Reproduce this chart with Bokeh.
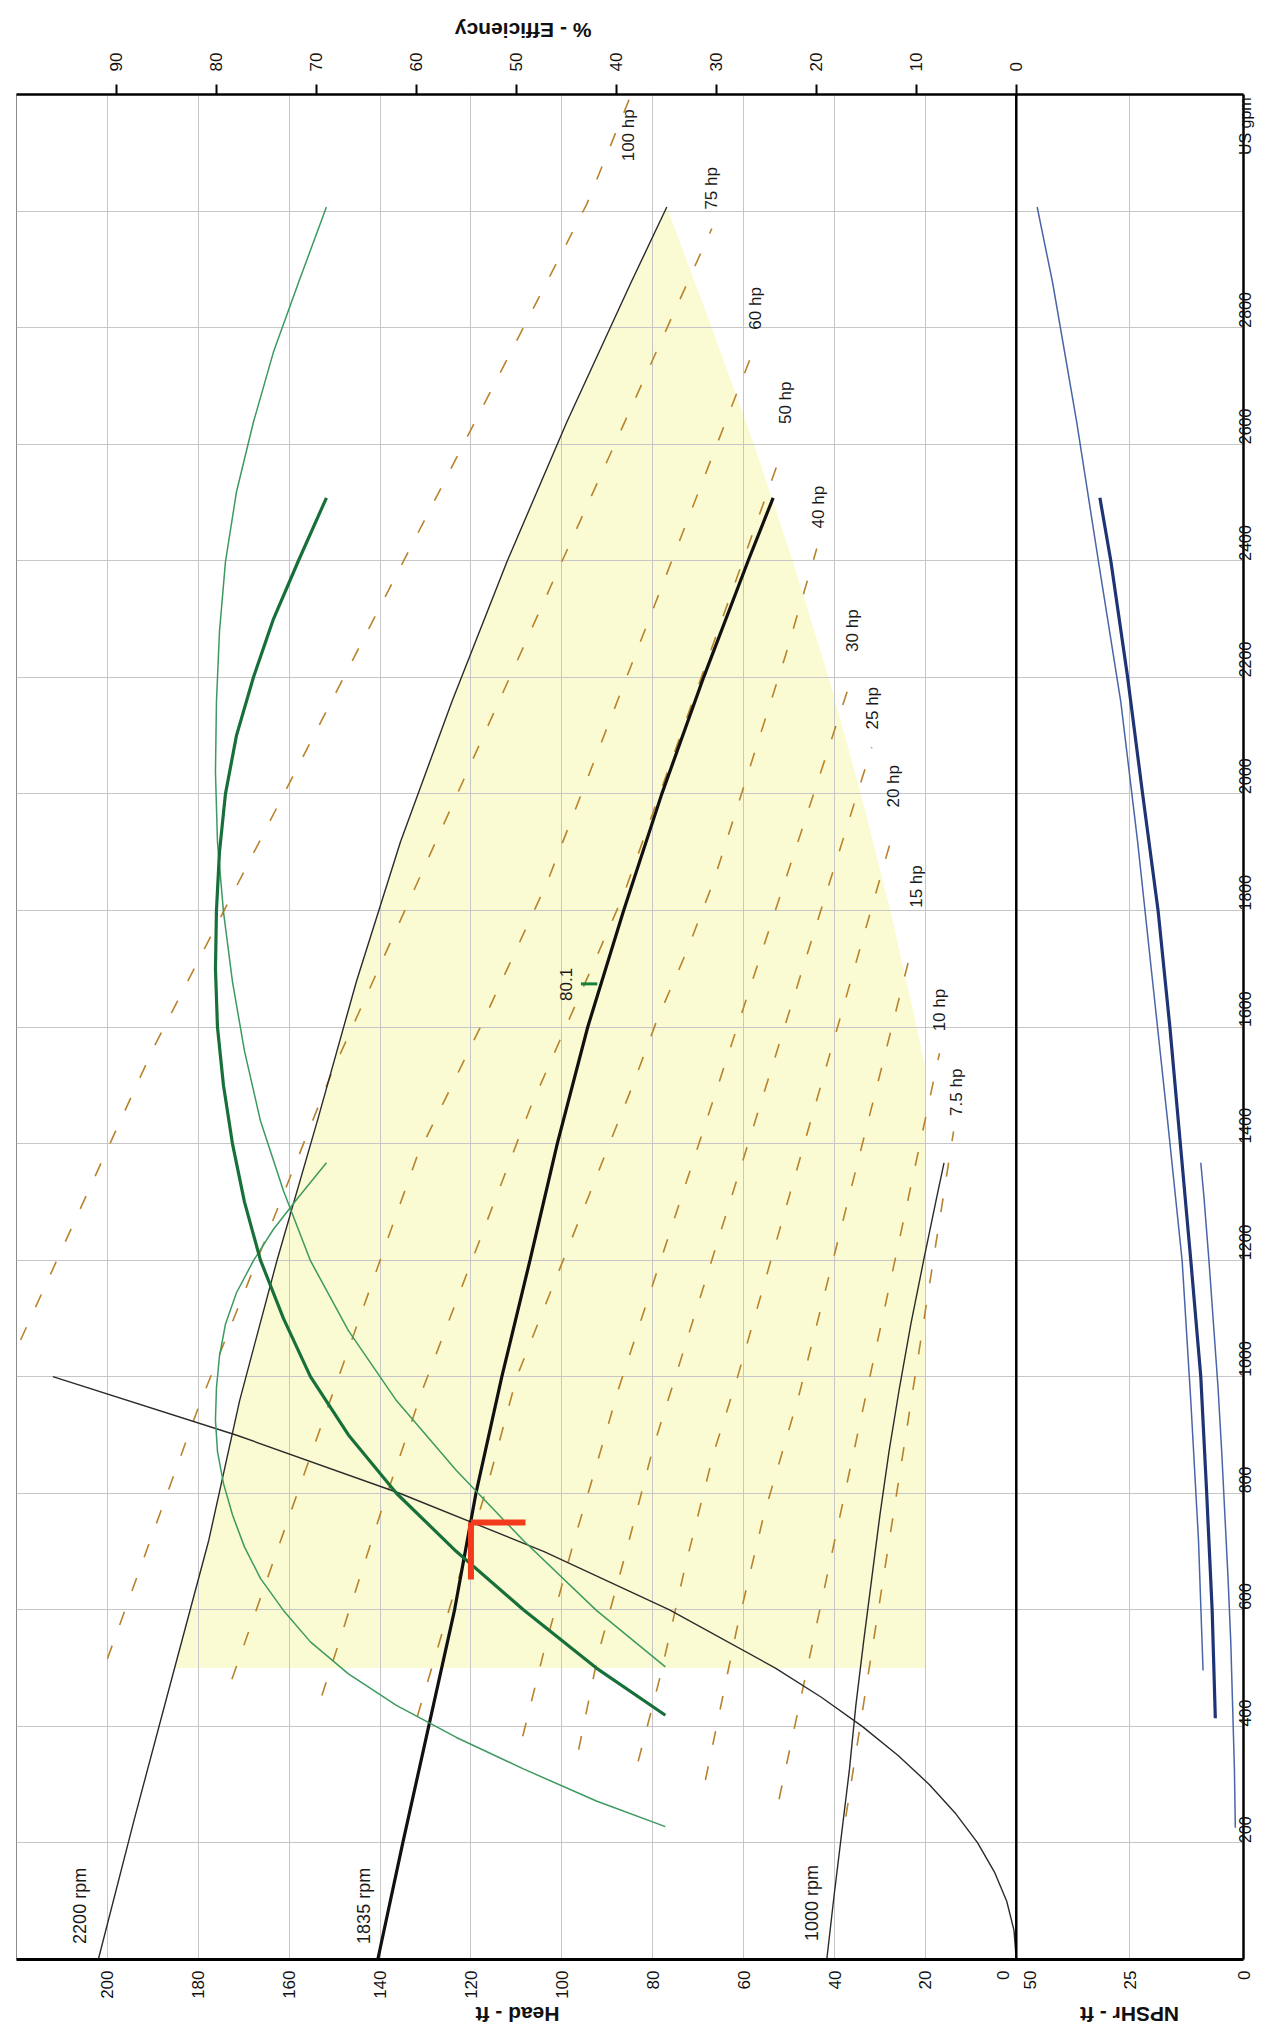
import math
from bokeh.plotting import figure
from bokeh.models import Range1d, LinearAxis, FixedTicker, Arrow, Span
from bokeh.core.properties import value
from bokeh.embed import file_html
from bokeh.resources import INLINE

FONT = "Liberation Sans"

# ---------------- data (x = flow US gpm, y = head ft) ----------------
q_1835 = [0, 200, 400, 600, 800, 1000, 1200, 1400, 1600, 1800, 2000, 2200, 2400, 2508]
h_1835 = [140.5, 135.0, 129.3, 123.6, 118.9, 113.2, 107.0, 101.0, 94.3, 86.4, 78.0, 68.8, 59.0, 53.5]

q_2200 = [0, 240, 480, 719, 959, 1199, 1439, 1678, 1918, 2158, 2398, 2638, 2877, 3007]
h_2200 = [202.0, 194.1, 185.9, 177.7, 170.9, 162.7, 153.8, 145.2, 135.5, 124.2, 112.1, 98.9, 84.8, 76.9]

q_1000 = [0, 109, 218, 327, 436, 545, 654, 763, 872, 981, 1090, 1199, 1308, 1367]
h_1000 = [41.7, 40.1, 38.4, 36.7, 35.3, 33.6, 31.8, 30.0, 28.0, 25.7, 23.2, 20.4, 17.5, 15.9]

q_sys = [0, 50, 100, 150, 200, 250, 300, 350, 400, 450, 500, 600, 700, 800, 900, 1000]
h_sys = [0, 0.5, 2.1, 4.8, 8.5, 13.3, 19.1, 26.0, 33.9, 42.9, 53.0, 76.3, 103.9, 135.7, 171.7, 212.0]

# efficiency (%)
eq_1835 = [419, 500, 600, 700, 800, 900, 1000, 1100, 1200, 1300, 1400, 1500, 1600, 1700, 1800, 1900, 2000, 2100, 2200, 2300, 2400, 2508]
eff_1835 = [35.1, 42.0, 49.3, 56.0, 62.0, 66.8, 70.6, 73.3, 75.6, 77.2, 78.4, 79.3, 79.9, 80.1, 80.0, 79.7, 79.1, 78.0, 76.3, 74.3, 71.8, 69.0]
eq_2200 = [502, 599, 719, 839, 959, 1079, 1199, 1319, 1439, 1559, 1678, 1798, 1918, 2038, 2158, 2278, 2398, 2518, 2638, 2758, 2877, 3007]
eff_2200 = [35.1, 42.0, 49.3, 56.0, 62.0, 66.8, 70.6, 73.3, 75.6, 77.2, 78.4, 79.3, 79.9, 80.1, 80.0, 79.7, 79.1, 78.0, 76.3, 74.3, 71.8, 69.0]
eq_1000 = [228, 272, 327, 381, 436, 490, 545, 599, 654, 708, 763, 817, 872, 926, 981, 1035, 1090, 1144, 1199, 1253, 1308, 1367]
eff_1000 = [35.1, 42.0, 49.3, 56.0, 62.0, 66.8, 70.6, 73.3, 75.6, 77.2, 78.4, 79.3, 79.9, 80.1, 80.0, 79.7, 79.1, 78.0, 76.3, 74.3, 71.8, 69.0]

# NPSHr (ft)
nq_1835 = [414, 600, 800, 1000, 1200, 1400, 1600, 1800, 2000, 2200, 2400, 2508]
npsh_1835 = [6.2, 6.9, 8.1, 9.4, 11.6, 13.9, 16.2, 18.8, 22.2, 25.5, 29.2, 31.6]
nq_2200 = [496, 719, 959, 1199, 1439, 1678, 1918, 2158, 2398, 2638, 2877, 3007]
npsh_2200 = [8.9, 9.9, 11.6, 13.5, 16.7, 20.0, 23.3, 27.0, 31.9, 36.7, 42.0, 45.4]
nq_1000 = [226, 327, 436, 545, 654, 763, 872, 981, 1090, 1199, 1308, 1367]
npsh_1000 = [1.8, 2.0, 2.4, 2.8, 3.4, 4.1, 4.8, 5.6, 6.6, 7.6, 8.7, 9.4]

# constant-power lines
hp_names = ["100 hp", "75 hp", "60 hp", "50 hp", "40 hp", "30 hp", "25 hp", "20 hp", "15 hp", "10 hp", "7.5 hp"]
hp_q = [[1063, 1565, 3012, 3197],
        [516, 949, 1522, 2970],
        [481, 864, 1377, 1605, 1847, 2762],
        [453, 773, 983, 1462, 1702, 1827, 2580],
        [417, 619, 812, 1000, 1496, 1611, 1730, 1850, 2237, 2421],
        [383, 527, 716, 909, 975, 2209],
        [360, 527, 704, 881, 1000, 2080],
        [340, 487, 676, 869, 995, 1947],
        [308, 567, 761, 966, 1735],
        [275, 1555],
        [245, 1421]]
hp_h = [[219.1, 189.8, 94.5, 84.9],
        [200.0, 179.9, 150.6, 67.0],
        [172.6, 155.3, 131.9, 117.6, 103.3, 57.8],
        [152.8, 139.6, 130.4, 106.9, 93.4, 86.4, 51.9],
        [131.8, 124.1, 116.4, 109.9, 84.6, 79.1, 72.5, 66.6, 50.8, 43.9],
        [108.6, 104.0, 97.4, 90.1, 87.7, 35.8],
        [96.3, 91.9, 85.7, 79.8, 75.0, 31.8],
        [83.2, 78.3, 72.8, 66.6, 61.5, 26.6],
        [68.4, 61.5, 55.6, 47.9, 23.0],
        [52.2, 16.9],
        [37.5, 13.8]]
hp_label_q = [3130, 3039, 2833, 2671, 2492, 2280, 2147, 2013, 1841, 1629, 1488]
hp_label_h = [85.3, 67.1, 57.4, 50.8, 43.5, 36.1, 31.6, 27.0, 21.9, 16.9, 13.2]

rpm_names = ["2200 rpm", "1835 rpm", "1000 rpm"]
rpm_label_q = [92, 92, 97]
rpm_label_h = [206.0, 143.6, 44.9]

# operating window (shaded)
win_q = [500, 719, 959, 1199, 1439, 1678, 1918, 2158, 2398, 2638, 2877, 3007, 2800, 2600, 2400, 2200, 2000, 1800, 1600, 1530, 500]
win_h = [185.3, 177.7, 170.9, 162.7, 153.8, 145.2, 135.5, 124.2, 112.1, 98.9, 84.8, 76.9, 67.0, 57.7, 49.2, 41.3, 34.2, 27.7, 21.9, 20.0, 20.0]

# duty point marker
duty_q0 = [750, 750]
duty_h0 = [120, 120]
duty_q1 = [750, 652]
duty_h1 = [108, 120]

# best efficiency point
bep_q = [1674]
bep_h0 = [92.2]
bep_h1 = [95.8]
bep_label = ["80.1"]
bep_label_q = [1673]
bep_label_h = [99.0]

# axes
head_tick_pos = [3, 20, 40, 60, 80, 100, 120, 140, 160, 180, 200, -3, -25, -50]
head_tick_txt = ["0", "20", "40", "60", "80", "100", "120", "140", "160", "180", "200", "50", "25", "0"]
eff_ticks = [0, 10, 20, 30, 40, 50, 60, 70, 80, 90]
gpm_ticks = [200, 400, 600, 800, 1000, 1200, 1400, 1600, 1800, 2000, 2200, 2400, 2600, 2800, 3096]
gpm_tick_txt = ["200", "400", "600", "800", "1000", "1200", "1400", "1600", "1800", "2000", "2200", "2400", "2600", "2800", "US gpm"]
gpm_grid = [200, 400, 600, 800, 1000, 1200, 1400, 1600, 1800, 2000, 2200, 2400, 2600, 2800, 3000]
head_grid = [20, 40, 60, 80, 100, 120, 140, 160, 180, 200, -25]

# title anchors (upside-down text starts at the anchor and runs rightwards / leftwards)
bottom_title_pos = [119, -14]
bottom_title_txt = ["Head - ft", "NPSHr - ft"]
top_title_pos = [42.5]
top_title_txt = ["% - Efficiency"]

# ---------------- figure ----------------
p = figure(width=1266, height=2040, x_range=Range1d(220, -50), y_range=Range1d(0, 3200),
           output_backend="svg", toolbar_location=None, y_axis_location="right",
           min_border_left=16, min_border_right=23, min_border_top=94, min_border_bottom=75)
p.extra_x_ranges = {"eff": Range1d(100, -22.727), "npsh": Range1d(270, 0)}
p.background_fill_color = "white"
p.border_fill_color = "white"
p.outline_line_color = "#8c8c8c"
p.outline_line_width = 1

# grid
p.xgrid.ticker = FixedTicker(ticks=head_grid)
p.ygrid.ticker = FixedTicker(ticks=gpm_grid)
p.grid.grid_line_color = "#c6c6c6"
p.grid.grid_line_width = 1


def style_axis(ax, size="17px", bold=False):
    ax.minor_tick_line_color = None
    ax.major_label_text_font = FONT
    ax.major_label_text_font_size = size
    ax.major_label_text_color = "#111111"
    if bold:
        ax.major_label_text_font_style = "bold"


# bottom axis (head / NPSHr)
xa = p.xaxis[0]
xa.ticker = FixedTicker(ticks=head_tick_pos)
xa.major_label_overrides = dict(zip(head_tick_pos, head_tick_txt))
xa.major_tick_line_color = None
xa.major_tick_out = 0
xa.major_tick_in = 0
xa.major_label_standoff = 11
xa.major_label_orientation = math.pi / 2
xa.axis_line_width = 3
xa.axis_line_color = "black"
style_axis(xa)

# bottom titles (second row)
bt = LinearAxis(ticker=FixedTicker(ticks=bottom_title_pos))
bt.major_label_overrides = dict(zip(bottom_title_pos, bottom_title_txt))
bt.major_tick_line_color = None
bt.major_tick_out = 0
bt.major_tick_in = 0
bt.axis_line_color = None
bt.major_label_standoff = 13
bt.major_label_orientation = math.pi
style_axis(bt, "21px", bold=True)
p.add_layout(bt, "below")

# right axis (gpm)
ya = p.yaxis[0]
ya.ticker = FixedTicker(ticks=gpm_ticks)
ya.major_label_overrides = dict(zip(gpm_ticks, gpm_tick_txt))
ya.major_tick_out = 0
ya.major_tick_in = 0
ya.major_label_standoff = 2
ya.major_label_orientation = math.pi / 2
ya.axis_line_width = 2.5
ya.axis_line_color = "black"
style_axis(ya, "16px")

# top axis (efficiency)
ea = LinearAxis(x_range_name="eff", ticker=FixedTicker(ticks=eff_ticks))
ea.major_tick_out = 10
ea.major_tick_in = 0
ea.major_tick_line_width = 2
ea.major_tick_line_color = "black"
ea.major_label_standoff = 13
ea.major_label_orientation = math.pi / 2
ea.axis_line_width = 2.5
ea.axis_line_color = "black"
style_axis(ea)
p.add_layout(ea, "above")

# top title (second row)
tt = LinearAxis(x_range_name="eff", ticker=FixedTicker(ticks=top_title_pos))
tt.major_label_overrides = dict(zip(top_title_pos, top_title_txt))
tt.major_tick_line_color = None
tt.major_tick_out = 0
tt.major_tick_in = 0
tt.axis_line_color = None
tt.major_label_standoff = 19
tt.major_label_orientation = math.pi
style_axis(tt, "21px", bold=True)
p.add_layout(tt, "above")

# shaded operating window
win = p.patch(win_h, win_q, fill_color="#fbfbd3", line_color=None)
win.level = "image"

# divider between head and NPSHr panels
p.add_layout(Span(location=0, dimension="height", line_color="black", line_width=2.5))
p.add_layout(Arrow(end=None, x_start=0, y_start=0, x_end=0, y_end=-74,
                   line_color="black", line_width=2.5))

# constant power lines
p.multi_line(xs=hp_h, ys=hp_q, line_color="#b8832c", line_width=1.6, line_dash="14 22")

# system curve
p.line(h_sys, q_sys, line_color="#2b2b2b", line_width=1.4)

# head curves
p.line(h_2200, q_2200, line_color="#2b2b2b", line_width=1.4)
p.line(h_1000, q_1000, line_color="#2b2b2b", line_width=1.4)
p.line(h_1835, q_1835, line_color="#111111", line_width=3.2)

# efficiency curves
p.line(eff_2200, eq_2200, x_range_name="eff", line_color="#3c9a5f", line_width=1.5)
p.line(eff_1000, eq_1000, x_range_name="eff", line_color="#3c9a5f", line_width=1.5)
p.line(eff_1835, eq_1835, x_range_name="eff", line_color="#17703a", line_width=3.2)

# NPSHr curves
p.line(npsh_2200, nq_2200, x_range_name="npsh", line_color="#4a64a8", line_width=1.5)
p.line(npsh_1000, nq_1000, x_range_name="npsh", line_color="#4a64a8", line_width=1.5)
p.line(npsh_1835, nq_1835, x_range_name="npsh", line_color="#1f3474", line_width=3.2)

# duty point marker
p.segment(x0=duty_h0, y0=duty_q0, x1=duty_h1, y1=duty_q1, line_color="#f23a1c", line_width=6)

# BEP
p.segment(x0=bep_h0, y0=bep_q, x1=bep_h1, y1=bep_q, line_color="#17803a", line_width=3)
p.text(x=bep_label_h, y=bep_label_q, text=bep_label, angle=math.pi / 2,
       text_align="center", text_baseline="middle", text_font=value(FONT),
       text_font_size="17px", text_color="#1a1a1a")

# curve labels
p.text(x=hp_label_h, y=hp_label_q, text=hp_names, angle=math.pi / 2,
       text_align="center", text_baseline="middle", text_font=value(FONT),
       text_font_size="17px", text_color="#1a1a1a")
p.text(x=rpm_label_h, y=rpm_label_q, text=rpm_names, angle=math.pi / 2,
       text_align="center", text_baseline="middle", text_font=value(FONT),
       text_font_size="18px", text_color="#1a1a1a")

open("out.html", "w").write(file_html(p, INLINE))
